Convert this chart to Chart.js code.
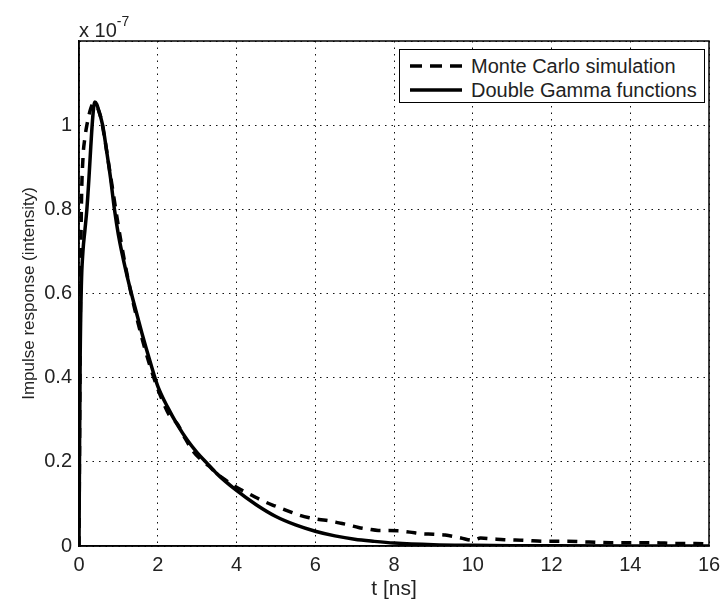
<!DOCTYPE html>
<html>
<head>
<meta charset="utf-8">
<script src="https://cdn.jsdelivr.net/npm/chart.js@4/dist/chart.umd.min.js"></script>
<style>
  body { margin: 0; background: #fff; }
  #wrap { position: relative; width: 723px; height: 602px; font-family: "Liberation Sans", Arial, sans-serif; color: #222; }
  #expo { position: absolute; left: 79px; top: 14px; font-size: 20px; line-height: 20px; }
  #expo sup { font-size: 14px; position: relative; top: -3px; }
  #legende { position: absolute; left: 399px; top: 49px; width: 304px; height: 52px; border: 1px solid #000; background: #fff; font-size: 20px; }
  .zeile { position: absolute; left: 10px; height: 24px; display: flex; align-items: center; }
  .zeile span { margin-left: 9px; }
</style>
</head>
<body>
<div id="wrap">
  <canvas id="impulsChart" width="723" height="602"></canvas>
  <div id="expo">x 10<sup>-7</sup></div>
  <div id="legende">
    <div class="zeile" style="top:4px">
      <svg width="52" height="6"><line x1="0" y1="3" x2="52" y2="3" stroke="#000" stroke-width="3.5" stroke-dasharray="12 8"/></svg>
      <span>Monte Carlo simulation</span>
    </div>
    <div class="zeile" style="top:28px">
      <svg width="52" height="6"><line x1="0" y1="3" x2="52" y2="3" stroke="#000" stroke-width="3.5"/></svg>
      <span>Double Gamma functions</span>
    </div>
  </div>
</div>
<script>
// Werte in Einheiten von 1e-7, Zeit in ns
const mcZeit = [0, 0.03, 0.06, 0.1, 0.15, 0.2, 0.3, 0.35, 0.45, 0.55, 0.65, 0.75, 0.85, 1.0, 1.15, 1.3, 1.5, 1.7, 1.9, 2.1, 2.3, 2.5, 2.7, 2.9, 3.1, 3.3, 3.5, 3.7, 3.9, 4.15, 4.4, 4.65, 4.9, 5.15, 5.4, 5.6, 5.85, 6.1, 6.35, 6.6, 6.85, 7.1, 7.35, 7.6, 7.85, 8.1, 8.4, 8.7, 9.0, 9.3, 9.7, 10.0, 10.2, 10.5, 10.8, 11.3, 11.85, 12.4, 12.95, 13.5, 14.05, 14.6, 15.15, 15.65, 16];
const mcWerte = [0, 0.5, 0.8, 0.92, 0.97, 1.0, 1.04, 1.05, 1.045, 1.02, 0.97, 0.91, 0.85, 0.76, 0.68, 0.61, 0.53, 0.46, 0.40, 0.35, 0.31, 0.29, 0.255, 0.225, 0.205, 0.19, 0.172, 0.158, 0.145, 0.132, 0.12, 0.108, 0.098, 0.089, 0.08, 0.073, 0.067, 0.063, 0.06, 0.055, 0.05, 0.044, 0.04, 0.037, 0.037, 0.036, 0.033, 0.029, 0.028, 0.026, 0.019, 0.0135, 0.019, 0.017, 0.015, 0.0135, 0.011, 0.011, 0.0095, 0.008, 0.008, 0.008, 0.006, 0.006, 0.005];

const dgZeit = [0, 0.015, 0.03, 0.06, 0.1, 0.15, 0.2, 0.25, 0.3, 0.35, 0.4, 0.45, 0.5, 0.6, 0.7, 0.8, 0.9, 1.0, 1.2, 1.4, 1.6, 1.8, 2.0, 2.25, 2.5, 2.75, 3.0, 3.25, 3.5, 4.0, 4.5, 5.0, 5.5, 6.0, 6.5, 7.0, 7.5, 8.0, 9.0, 10, 11, 12, 14, 16];
const dgWerte = [0, 0.25, 0.45, 0.62, 0.7, 0.75, 0.8, 0.87, 0.95, 1.02, 1.055, 1.05, 1.035, 1.0, 0.94, 0.875, 0.80, 0.74, 0.65, 0.575, 0.505, 0.44, 0.38, 0.33, 0.288, 0.252, 0.222, 0.197, 0.172, 0.132, 0.098, 0.07, 0.05, 0.035, 0.024, 0.016, 0.011, 0.007, 0.003, 0.0015, 0.0007, 0.0004, 0.0001, 0];

const xTicks = [0, 2, 4, 6, 8, 10, 12, 14, 16];
const yTicks = [0, 0.2, 0.4, 0.6, 0.8, 1];

const punkte = (xs, ys) => xs.map((x, i) => ({ x: x, y: ys[i] }));

// Rahmen wie bei MATLAB (box on)
const rahmen = {
  id: "rahmen",
  afterDatasetsDraw(chart) {
    const { ctx, chartArea: a } = chart;
    ctx.save();
    ctx.strokeStyle = "#000";
    ctx.lineWidth = 1.5;
    ctx.strokeRect(a.left, a.top, a.right - a.left, a.bottom - a.top);
    ctx.restore();
  }
};

const gitter = { color: "#111", lineWidth: 1, drawTicks: false };
const rand = { display: true, color: "#000", width: 1.5, dash: [1.5, 5] };

new Chart(document.getElementById("impulsChart"), {
  type: "line",
  data: {
    datasets: [{
      label: "Monte Carlo simulation",
      data: punkte(mcZeit, mcWerte),
      borderColor: "#000",
      borderWidth: 3.5,
      borderDash: [10, 8],
      pointRadius: 0,
      cubicInterpolationMode: "monotone",
      fill: false
    }, {
      label: "Double Gamma functions",
      data: punkte(dgZeit, dgWerte),
      borderColor: "#000",
      borderWidth: 3.5,
      pointRadius: 0,
      cubicInterpolationMode: "monotone",
      fill: false
    }]
  },
  options: {
    responsive: false,
    animation: false,
    devicePixelRatio: 1,
    layout: { padding: { left: 19, top: 41, right: 14, bottom: 0 } },
    plugins: { legend: { display: false }, tooltip: { enabled: false } },
    scales: {
      x: {
        type: "linear",
        min: 0,
        max: 16,
        afterBuildTicks: s => { s.ticks = xTicks.map(v => ({ value: v })); },
        afterFit: s => { s.height = 56; s.paddingLeft = 0; s.paddingRight = 0; },
        grid: gitter,
        border: rand,
        ticks: { padding: 7, color: "#222", font: { family: "Liberation Sans", size: 20 } },
        title: { display: true, text: "t [ns]", color: "#222", padding: { top: 0, bottom: 0 }, font: { family: "Liberation Sans", size: 21 } }
      },
      y: {
        type: "linear",
        min: 0,
        max: 1.2,
        afterBuildTicks: s => { s.ticks = yTicks.concat([1.2]).map(v => ({ value: v })); },
        afterFit: s => { s.width = 60; s.paddingTop = 0; s.paddingBottom = 0; },
        grid: gitter,
        border: rand,
        ticks: {
          padding: 7,
          color: "#222",
          font: { family: "Liberation Sans", size: 20 },
          callback: v => v > 1.05 ? "" : String(Number(v.toFixed(1)))
        },
        title: { display: true, text: "Impulse response (intensity)", color: "#222", padding: 0, font: { family: "Liberation Sans", size: 17 } }
      }
    }
  },
  plugins: [rahmen]
});
</script>
</body>
</html>
